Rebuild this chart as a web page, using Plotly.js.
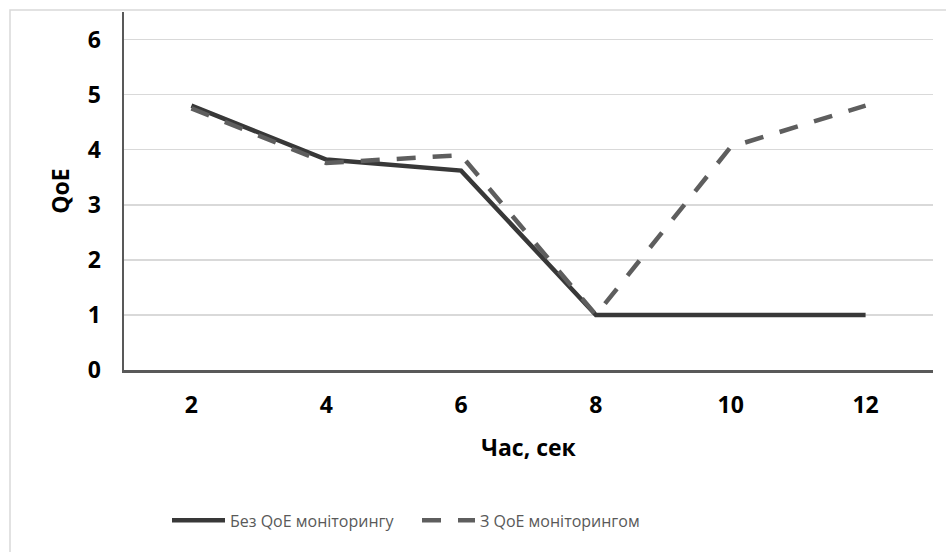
<!DOCTYPE html>
<html>
<head>
<meta charset="utf-8">
<script src="https://cdn.plot.ly/plotly-3.0.1.min.js"></script>
<style>html,body{margin:0;padding:0;background:#fff;}#chart{width:946px;height:552px;}</style>
</head>
<body>
<div id="chart"></div>
<script>
const categories = ["2", "4", "6", "8", "10", "12"];
const withoutMonitoring = [4.8, 3.82, 3.62, 1, 1, 1];
const withMonitoring = [4.75, 3.76, 3.9, 1, 4.05, 4.8];
const seriesNames = ["Без QoE моніторингу", "З QoE моніторингом"];
const yTicks = [0, 1, 2, 3, 4, 5, 6];

const traces = [
  {
    x: categories, y: withoutMonitoring, name: seriesNames[0],
    type: 'scatter', mode: 'lines',
    line: {color: '#383838', width: 4.5}
  },
  {
    x: categories, y: withMonitoring, name: seriesNames[1],
    type: 'scatter', mode: 'lines',
    line: {color: '#5e5e5e', width: 4.5, dash: '19px,17px'}
  }
];

const layout = {
  width: 946, height: 552,
  margin: {l: 124, r: 13, t: 12, b: 182},
  paper_bgcolor: '#ffffff', plot_bgcolor: '#ffffff',
  font: {family: 'Open Sans, sans-serif', color: '#000'},
  showlegend: true,
  legend: {
    orientation: 'h', x: (167 - 124) / 809, xanchor: 'left', y: -0.42, yanchor: 'middle',
    font: {family: 'Open Sans, sans-serif', size: 16, color: '#595959'},
    itemwidth: 53, entrywidth: 182, bgcolor: 'rgba(0,0,0,0)'
  },
  xaxis: {
    type: 'category', range: [-0.5, 5.5],
    showline: true, linecolor: '#595959', linewidth: 2.5,
    showgrid: false, zeroline: false,
    ticks: '', ticklabelstandoff: 13,
    tickfont: {family: 'Open Sans, sans-serif', size: 23, color: '#000', weight: 'bold'},
    title: {text: 'Час, сек', font: {family: 'Open Sans, sans-serif', size: 23, color: '#000', weight: 'bold'}, standoff: 21},
    automargin: false, fixedrange: true
  },
  yaxis: {
    range: [0, 6.5], tickvals: yTicks, ticktext: yTicks.map(String),
    showline: true, linecolor: '#595959', linewidth: 2.5,
    showgrid: true, gridcolor: '#d9d9d9', gridwidth: 1.5, zeroline: false,
    ticks: '', ticklabelstandoff: 16,
    tickfont: {family: 'Open Sans, sans-serif', size: 23, color: '#000', weight: 'bold'},
    title: {text: 'QoE', font: {family: 'Open Sans, sans-serif', size: 23, color: '#000', weight: 'bold'}, standoff: 12},
    automargin: false, fixedrange: true
  },
  shapes: [{
    type: 'rect', xref: 'paper', yref: 'paper',
    x0: (10 - 124) / 809, x1: (960 - 124) / 809,
    y0: (370 - 570) / 358, y1: (370 - 10) / 358,
    line: {color: '#d9d9d9', width: 1.5}, fillcolor: 'rgba(0,0,0,0)', layer: 'below'
  }]
};

Plotly.newPlot('chart', traces, layout, {displayModeBar: false, staticPlot: true});
</script>
</body>
</html>
